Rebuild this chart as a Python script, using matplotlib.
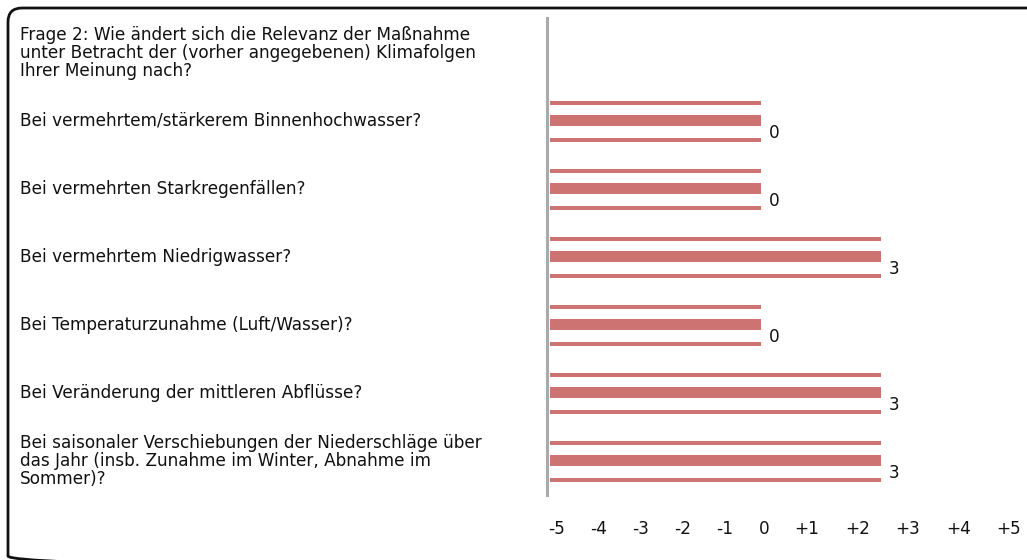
import matplotlib.pyplot as plt
from matplotlib.patches import FancyBboxPatch

# data
question = ("Frage 2: Wie ändert sich die Relevanz der Maßnahme\n"
            "unter Betracht der (vorher angegebenen) Klimafolgen\n"
            "Ihrer Meinung nach?")
items = [
    "Bei vermehrtem/stärkerem Binnenhochwasser?",
    "Bei vermehrten Starkregenfällen?",
    "Bei vermehrtem Niedrigwasser?",
    "Bei Temperaturzunahme (Luft/Wasser)?",
    "Bei Veränderung der mittleren Abflüsse?",
    "Bei saisonaler Verschiebungen der Niederschläge über\n"
    "das Jahr (insb. Zunahme im Winter, Abnahme im\n"
    "Sommer)?",
]
values = [0, 0, 3, 0, 3, 3]
scale_labels = ["-5", "-4", "-3", "-2", "-1", "0", "+1", "+2", "+3", "+4", "+5"]

# layout (pixels)
W, H = 1027, 560
scale_x = [557, 599, 641, 683, 725, 764, 807, 858, 908, 959, 1009]
bar_color = "#cd7372"
bar_start = -5.275
fs = 12.2

fig = plt.figure(figsize=(W / 100, H / 100), dpi=100)

# overlay axes in pixel coordinates
ov = fig.add_axes([0, 0, 1, 1])
ov.set_xlim(0, W)
ov.set_ylim(H, 0)
ov.axis("off")
box = FancyBboxPatch((8, 8), W + 40, 562, boxstyle="round,pad=0,rounding_size=14",
                     fc="none", ec="#111111", lw=2)
box.set_clip_on(False)
ov.add_patch(box)
for lab, x in zip(scale_labels, scale_x):
    ov.text(x, 529, lab, ha="center", va="center", fontsize=fs, color="#111111")

# data axes
left_px, right_px, top_px, bot_px = 547, 1010, 18, 495
ax = fig.add_axes([left_px / W, 1 - bot_px / H, (right_px - left_px) / W, (bot_px - top_px) / H])
ax.patch.set_alpha(0)
ax.set_xlim((left_px - 761) / 40, (right_px - 761) / 40)
ax.set_ylim((bot_px - 120.5) / 68, (top_px - 120.5) / 68)
for s in ["top", "right", "bottom"]:
    ax.spines[s].set_visible(False)
ax.spines["left"].set_color("#aaaaaa")
ax.spines["left"].set_linewidth(2.2)
ax.set_xticks([])
ax.set_yticks([])

for i, v in enumerate(values):
    w = v - bar_start
    ax.barh(i, w, left=bar_start, height=0.16, color=bar_color)
    ax.barh(i - 0.262, w, left=bar_start, height=0.058, color=bar_color)
    ax.barh(i + 0.282, w, left=bar_start, height=0.058, color=bar_color)
    ax.text(v + 0.2, i + 0.19, str(v), ha="left", va="center", fontsize=fs, color="#111111")

# left text
text_x = (20 - 761) / 40
ax.text(text_x, -1.0, question, ha="left", va="center",
        fontsize=fs, color="#111111", linespacing=1.0, clip_on=False)
for i, lab in enumerate(items):
    ax.text(text_x, i, lab, ha="left", va="center", fontsize=fs,
            color="#111111", linespacing=1.0, clip_on=False)

fig.savefig("out.png", dpi=100)
